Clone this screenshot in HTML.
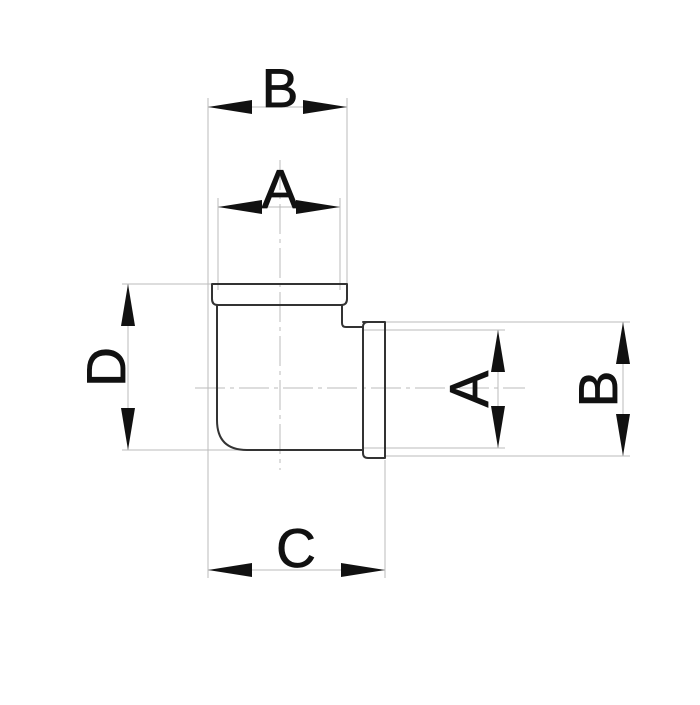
<!DOCTYPE html>
<html><head><style>html,body{margin:0;padding:0;background:#fff}</style></head><body>
<svg width="700" height="700" viewBox="0 0 700 700" xmlns="http://www.w3.org/2000/svg">
<rect width="700" height="700" fill="#fff"/>
<g stroke="#bbb" stroke-width="1" fill="none">
<line x1="208" y1="98" x2="208" y2="578"/>
<line x1="347" y1="98" x2="347" y2="284"/>
<line x1="218" y1="198" x2="218" y2="290"/>
<line x1="340" y1="198" x2="340" y2="290"/>
<line x1="385" y1="460" x2="385" y2="578"/>
<line x1="122" y1="284" x2="212" y2="284"/>
<line x1="122" y1="450" x2="363" y2="450"/>
<line x1="385" y1="322" x2="630" y2="322"/>
<line x1="385" y1="456" x2="630" y2="456"/>
<line x1="363" y1="330" x2="505" y2="330"/>
<line x1="363" y1="448" x2="505" y2="448"/>
<line x1="208" y1="107" x2="347" y2="107"/>
<line x1="218" y1="207" x2="340" y2="207"/>
<line x1="128" y1="284" x2="128" y2="450"/>
<line x1="498" y1="330" x2="498" y2="448"/>
<line x1="623" y1="322" x2="623" y2="456"/>
<line x1="208" y1="570" x2="385" y2="570"/>
</g>
<g stroke="#bbb" stroke-width="1" stroke-dasharray="30,5,4,5">
<line x1="280" y1="160" x2="280" y2="470"/>
<line x1="195" y1="388" x2="525" y2="388"/>
</g>
<g stroke="#333" stroke-width="2" fill="none" stroke-linejoin="round">
<path d="M212,284 H347 V299 Q347,305 341,305 H218 Q212,305 212,299 Z"/>
<path d="M217,305 V420 Q217,450 247,450 H363"/>
<path d="M342,305 V323 Q342,327 346,327 H363"/>
<path d="M363,322 H385 V458 H368 Q363,458 363,453 V327 Q363,322 368,322 Z"/>
</g>
<g fill="#111">
<polygon points="208,107 252,100 252,114"/>
<polygon points="347,107 303,100 303,114"/>
<polygon points="218,207 262,200 262,214"/>
<polygon points="340,207 296,200 296,214"/>
<polygon points="128,284 121,326 135,326"/>
<polygon points="128,450 121,408 135,408"/>
<polygon points="498,330 491,372 505,372"/>
<polygon points="498,448 491,406 505,406"/>
<polygon points="623,322 616,364 630,364"/>
<polygon points="623,456 616,414 630,414"/>
<polygon points="208,570 252,563 252,577"/>
<polygon points="385,570 341,563 341,577"/>
</g>
<g font-family="Liberation Sans, sans-serif" font-size="55" fill="#111" text-anchor="middle" stroke="#111" stroke-width="0.8">
<text x="280" y="107">B</text>
<text x="280" y="208">A</text>
<text x="296" y="567">C</text>
<text transform="translate(125,367) rotate(-90)">D</text>
<text transform="translate(488,389) rotate(-90)">A</text>
<text transform="translate(617,389) rotate(-90)">B</text>
</g>
</svg>
</body></html>
